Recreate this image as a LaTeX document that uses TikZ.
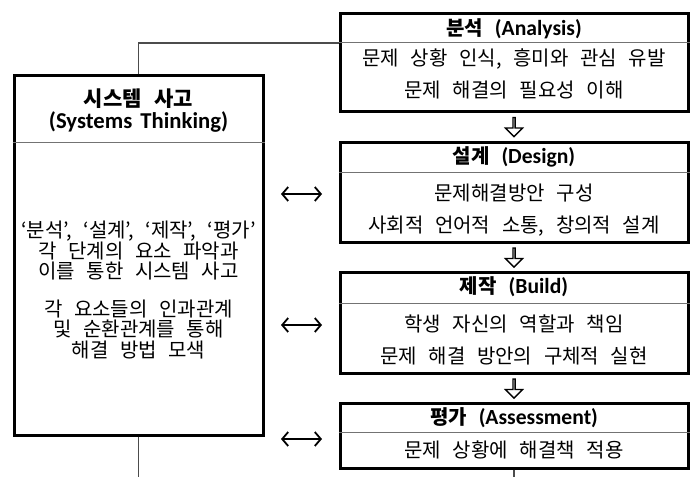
\documentclass[tikz,border=0pt]{standalone}
\usepackage{fontspec}
\setmainfont{Noto Sans CJK KR}[WordSpace=2.6]
\newfontfamily\latinfont{Carlito}[Scale=1.08, WordSpace=1.6]
\usetikzlibrary{arrows.meta, shapes.arrows, calc}

\begin{document}
\begin{tikzpicture}[x=1pt, y=-1pt,
  stagebox/.style={draw, line width=3pt, minimum width=348pt, inner sep=0pt},
  sysbox/.style={draw, line width=3pt, minimum width=249pt, minimum height=360pt, inner sep=0pt},
  divline/.style={draw=black!55, line width=0.8pt},
  link/.style={draw=black!70, line width=1.2pt},
  title/.style={font=\bfseries\fontsize{20}{21}\selectfont, align=center},
  body/.style={font=\fontsize{20}{32}\selectfont, align=center},
  flowarrow/.style={draw, fill=white, line width=1.4pt, single arrow, shape border rotate=270,
    minimum height=19pt, minimum width=17pt, single arrow head extend=5pt, inner sep=0pt},
  twoway/.style={line width=1.8pt, {Straight Barb[length=6pt,width=14pt]}-{Straight Barb[length=6pt,width=14pt]}}
]
  \useasboundingbox (0,0) rectangle (696,477);

  % stage boxes
  \node[stagebox, minimum height=98pt] (ana) at (514,62) {};
  \node[stagebox, minimum height=100pt] (des) at (514,192) {};
  \node[stagebox, minimum height=101pt] (bld) at (514,322.5) {};
  \node[stagebox, minimum height=65pt] (asm) at (514,435.5) {};
  \node[sysbox] (sys) at (138.5,255) {};

  % header lines
  \draw[divline] (ana.west |- 0,42) -- (ana.east |- 0,42);
  \draw[divline] (des.west |- 0,172) -- (des.east |- 0,172);
  \draw[divline] (bld.west |- 0,303) -- (bld.east |- 0,303);
  \draw[divline] (asm.west |- 0,432) -- (asm.east |- 0,432);
  \draw[divline] (sys.west |- 0,142) -- (sys.east |- 0,142);

  % texts
  \node[title] (anat) at (514,29) {분석 {\latinfont (Analysis)}};
  \node[body] (anab) at (514,74) {문제 상황 인식, 흥미와 관심 유발\\문제 해결의 필요성 이해};
  \node[title] (dest) at (514,157) {설계 {\latinfont (Design)}};
  \node[body] (desb) at (514,210) {문제해결방안 구성\\사회적 언어적 소통, 창의적 설계};
  \node[title] (bldt) at (514,287) {제작 {\latinfont (Build)}};
  \node[body] (bldb) at (514,340) {학생 자신의 역할과 책임\\문제 해결 방안의 구체적 실현};
  \node[title] (asmt) at (514,418) {평가 {\latinfont (Assessment)}};
  \node[body] (asmb) at (514,450) {문제 상황에 해결책 적용};
  \node[title, font=\bfseries\fontsize{21}{22}\selectfont] (syst) at (138.5,110.5) {시스템 사고\\{\latinfont (Systems Thinking)}};
  \node[body, font=\fontsize{20}{20.5}\selectfont] (sysb) at (138.5,290) {‘분석’, ‘설계’, ‘제작’, ‘평가’\\각 단계의 요소 파악과\\이를 통한 시스템 사고\\[17pt]각 요소들의 인과관계\\및 순환관계를 통해\\해결 방법 모색};

  % flow arrows
  \node[flowarrow] (f1) at ($(ana.south)!0.5!(des.north)$) {};
  \node[flowarrow] (f2) at ($(des.south)!0.5!(bld.north)$) {};
  \node[flowarrow] (f3) at ($(bld.south)!0.5!(asm.north)$) {};

  % links
  \coordinate (sysend) at (sys.south |- 0,477);
  \coordinate (asmend) at (asm.south |- 0,477);
  \draw[link] (sys.north) |- (ana.west |- 0,43);
  \draw[link] (sys.south) -- (sysend);
  \draw[link] (asm.south) -- (asmend);

  % two-way arrows
  \coordinate (dl) at (281,194);
  \coordinate (dr) at (322,194);
  \coordinate (bl) at (281,325);
  \coordinate (br) at (322,325);
  \coordinate (al) at (281,439);
  \coordinate (ar) at (322,439);
  \draw[twoway] (dl) -- (dr);
  \draw[twoway] (bl) -- (br);
  \draw[twoway] (al) -- (ar);
\end{tikzpicture}
\end{document}
